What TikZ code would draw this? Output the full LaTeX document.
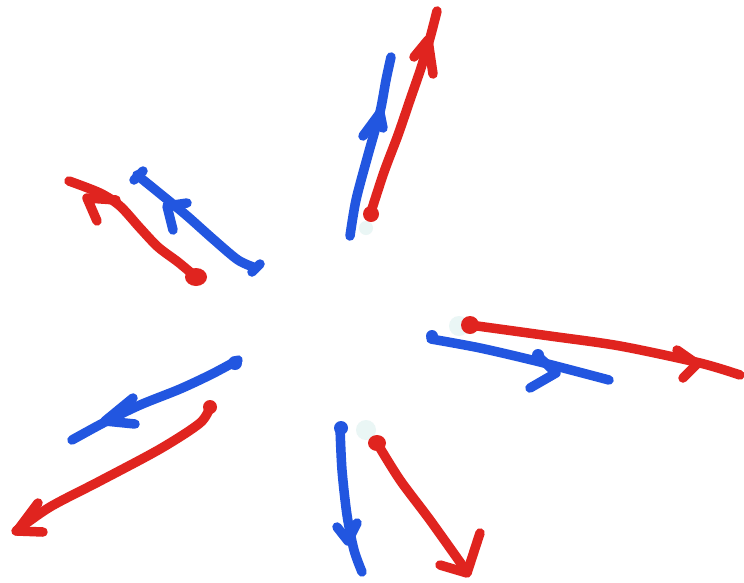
\documentclass[tikz,border=0pt]{standalone}
\definecolor{penred}{HTML}{E0241F}
\definecolor{penblue}{HTML}{2256E0}
\definecolor{erase}{HTML}{EAF6F5}
\begin{document}
\begin{tikzpicture}[x=1pt,y=-1pt,
  pen/.style={line width=9.5pt,line cap=round,line join=round},
  redpen/.style={pen,draw=penred},
  bluepen/.style={pen,draw=penblue},
  blobred/.style={fill=penred},
  blobblue/.style={fill=penblue},
  rub/.style={fill=erase}]
\useasboundingbox[fill=white] (0,0) rectangle (744,582);
% eraser marks
\fill[rub] (366,228) circle (7);
\fill[rub] (459,326) circle (10);
\fill[rub] (366,430) circle (10);
% ---- top pair
\draw[bluepen] plot[smooth] coordinates {(350,236) (356,200) (368,155) (380,112) (386,80) (391,57)};
\draw[bluepen] (363,136) -- (380,113) -- (383,128);
\draw[redpen] plot[smooth] coordinates {(370,215) (384,172) (398,135) (410,100) (421,68) (430,38) (437,11)};
\draw[redpen] (414,57) -- (428,40) -- (433,74);
\fill[blobred] (371,214) circle (8);
% ---- upper-left pair
\draw[redpen] plot[smooth] coordinates {(196,277) (178,262) (158,247) (140,228) (120,206) (100,193) (69,181)};
\draw[redpen] (97,221) -- (87,198) -- (116,200);
\fill[blobred] (196,277) ellipse (11 and 9);
\draw[bluepen] plot[smooth] coordinates {(256,268) (238,260) (213,239) (186,215) (158,192) (137,175)};
\draw[bluepen] (173,230) -- (167,206) -- (187,203);
\draw[bluepen] (252,272) -- (260,264);
\draw[bluepen] (134,180) -- (143,171);
% ---- right pair
\draw[redpen] plot[smooth] coordinates {(470,325) (550,336) (620,346) (700,363) (740,375)};
\draw[redpen] (677,350) -- (697,364) -- (683,378);
\fill[blobred] (470,325) circle (9);
\draw[bluepen] plot[smooth] coordinates {(431,339) (480,348) (540,362) (609,380)};
\draw[bluepen] (538,356) -- (556,373) -- (530,388);
\fill[blobblue] (432,336) circle (6);
\fill[blobblue] (538,355) circle (6);
% ---- lower-left pair
\draw[bluepen] plot[smooth] coordinates {(238,360) (212,374) (180,389) (140,405) (105,422) (72,440)};
\draw[bluepen] (133,398) -- (105,421) -- (135,424);
\fill[blobblue] (235,363) circle (7);
\draw[redpen] plot[smooth] coordinates {(210,407) (200,423) (160,449) (100,481) (50,507) (16,531)};
\draw[redpen] (38,503) -- (17,531) -- (43,532);
\fill[blobred] (210,407) circle (7);
% ---- bottom pair
\draw[bluepen] plot[smooth] coordinates {(340,428) (342,470) (347,515) (354,550) (362,572)};
\draw[bluepen] (337,527) -- (348,541) -- (357,523);
\fill[blobblue] (341,428) circle (7);
\draw[redpen] plot[smooth] coordinates {(377,443) (400,480) (430,520) (467,572)};
\draw[redpen] (440,565) -- (467,573) -- (480,533);
\fill[blobred] (377,443) ellipse (9 and 8);
\end{tikzpicture}
\end{document}
